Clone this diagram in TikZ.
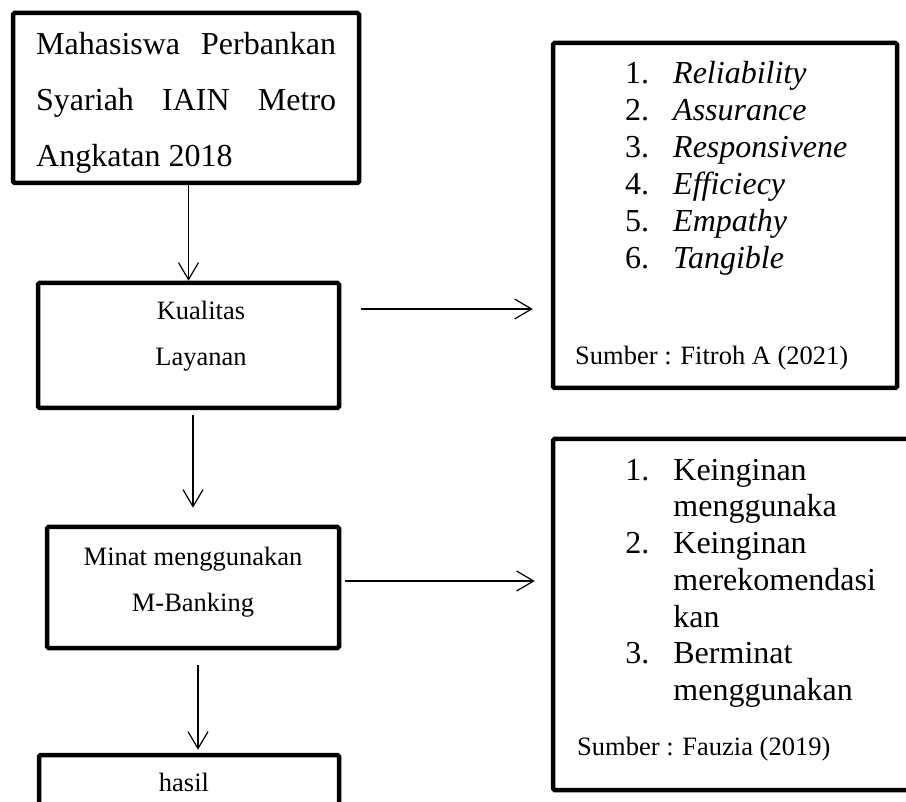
\documentclass[tikz,border=0pt]{standalone}
\usepackage{fontspec}
\setmainfont{Liberation Serif}
\usetikzlibrary{arrows.meta}
\usetikzlibrary{matrix}
\usetikzlibrary{positioning}

\begin{document}
\begin{tikzpicture}[x=1pt,y=-1pt,
box/.style={rectangle,draw=black,line width=4.5pt,rounded corners=1.5pt,inner sep=0pt},
link/.style={-{Straight Barb[length=17pt,width=20pt]},line width=1.2pt},
big/.style={font=\fontsize{32}{56}\selectfont,inner sep=0pt},
mid/.style={font=\fontsize{26.5}{46}\selectfont,inner sep=0pt},
items/.style={matrix of nodes,inner sep=0pt,column sep=24pt,row sep=0pt,nodes={inner sep=0pt,anchor=base west,text height=27pt,text depth=#1,font=\fontsize{32}{37}\selectfont}}]

\path[use as bounding box,clip] (0,0) rectangle (906,802);
%\fill[white] (0,0) rectangle (906,802);

% left column
\node (mhs) [box,minimum width=346pt,minimum height=170pt] at (186,98) {};
\node (kualitas) [box,minimum width=301pt,minimum height=125pt] at (188.5,345.5) {};
\node (minat) [box,minimum width=292pt,minimum height=121pt] at (193,587.5) {};
\node (hasil) [box,minimum width=300pt,minimum height=110pt] at (189,810) {};

% base = last line
\node (mhsText) [big,anchor=base west,align=left] at (36,167)
{\makebox[300pt][s]{Mahasiswa Perbankan}\\\makebox[300pt][s]{Syariah IAIN Metro}\\Angkatan 2018};
\node (kualitasText) [mid,anchor=base,align=center] at (201,366) {Kualitas\\Layanan};
\node (minatText) [mid,anchor=base,align=center] at (193,611) {Minat menggunakan\\M-Banking};
\node (hasilText) [mid,anchor=base] at (184,791) {hasil};

% right column
\node (dimensi) [box,minimum width=344pt,minimum height=345pt] at (725,215.5) {};
\node (indikator) [box,minimum width=410pt,minimum height=351pt] at (758,614.5) {};

\matrix (dimList) [items=10pt,anchor=north west,column 2/.style={nodes={font=\fontsize{32}{37}\selectfont\itshape}}] at (625,56)
{
1. & Reliability \\
2. & Assurance \\
3. & Responsivene \\
4. & Efficiecy \\
5. & Empathy \\
6. & Tangible \\
};
\node (sumberDim) [mid,anchor=base west] at (575,365) {Sumber : Fitroh A (2021)};

\matrix (indList) [items=9.7pt,anchor=north west] at (625,453)
{
1. & Keinginan \\
   & menggunaka \\
2. & Keinginan \\
   & merekomendasi \\
   & kan \\
3. & Berminat \\
   & menggunakan \\
};
\node (sumberInd) [mid,anchor=base west] at (577,755) {Sumber : Fauzia (2019)};

% arrows
\draw[link] (kualitas.north |- mhs.south) -- (kualitas.north);
\draw[link,shorten <=5pt,shorten >=17pt] (minat.north |- kualitas.south) -- (minat.north);
\draw[link,shorten <=15pt,shorten >=3pt] ([xshift=5pt]minat.south) -- ([xshift=5pt]minat.south |- hasil.north);

\coordinate (kualitasOut) at ([xshift=20pt,yshift=36.5pt]kualitas.east);
\coordinate (minatOut) at ([xshift=4pt,yshift=6.5pt]minat.east);
\draw[link,shorten >=18pt] (kualitasOut) -- (kualitasOut -| dimensi.west);
\draw[link,shorten >=16pt] (minatOut) -- (minatOut -| indikator.west);

\end{tikzpicture}
\end{document}
